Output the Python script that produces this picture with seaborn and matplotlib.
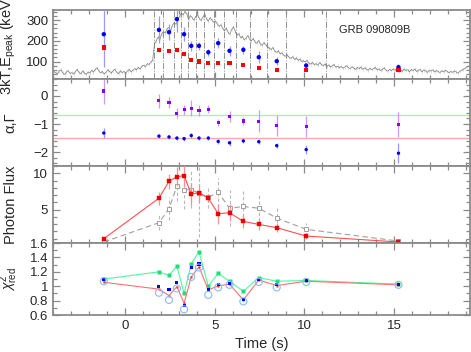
import numpy as np
import pandas as pd
import matplotlib
matplotlib.use("Agg")
import matplotlib.pyplot as plt
from matplotlib.ticker import MultipleLocator, FormatStrFormatter
import seaborn as sns

# ── Spectral time bins (s) ────────────────────────────────────
t_mid = [-1.17, 1.9, 2.46, 2.9, 3.3, 3.7, 4.13, 4.65, 5.2, 5.83,
         6.6, 7.46, 8.46, 10.1, 15.24]
bin_edges = [1.61, 2.13, 2.72, 3.15, 3.52, 3.94, 4.39, 4.94, 5.5,
             6.2, 6.98, 7.9, 9.0, 11.2]

# ── Panel 1: Epeak and 3kT (keV) ─────────────────────────────
epeak = [232, 253, 242, 305, 232, 176, 176, 145, 189, 152, 157, 121, 102, 81, 73]
epeak_err = [160, 65, 40, 60, 35, 25, 20, 18, 25, 25, 20, 30, 20, 10, 15]
kt3 = [168, 157, 152, 157, 136, 108, 100, 92, 95, 92, 83, 68, 58, 58, 58]
kt3_err = [12, 9, 8, 9, 8, 7, 6, 6, 6, 6, 5, 5, 5, 5, 6]

# background light curve (scaled to keV axis), 0.1 s bins from -4 s
lc_rate = [52, 46, 40, 55, 60, 45, 38, 50, 56, 42,
           47, 40, 52, 62, 48, 41, 55, 45, 38, 50,
           44, 58, 49, 62, 70, 55, 46, 52, 40, 48,
           60, 52, 45, 56, 63, 48, 42, 55, 47, 52,
           45, 55, 62, 50, 58, 66, 60, 72, 64, 78,
           82, 75, 90, 86, 98, 105, 185, 200, 218, 210,
           232, 245, 238, 258, 265, 250, 275, 288, 280, 302,
           318, 335, 325, 342, 330, 305, 322, 312, 300, 318,
           325, 308, 298, 315, 328, 306, 295, 312, 300, 290,
           296, 282, 270, 278, 260, 248, 262, 240, 232, 255,
           268, 245, 228, 235, 215, 222, 205, 212, 226, 208,
           200, 212, 195, 188, 202, 185, 178, 192, 180, 170,
           165, 158, 168, 150, 145, 152, 138, 142, 130, 126,
           132, 120, 116, 124, 110, 118, 106, 112, 100, 104,
           98, 106, 92, 88, 96, 85, 90, 82, 95, 86,
           80, 88, 76, 84, 74, 79, 86, 72, 78, 70,
           76, 68, 74, 80, 70, 66, 75, 69, 62, 72,
           66, 74, 62, 70, 64, 58, 68, 61, 66, 72,
           60, 65, 56, 63, 70, 58, 54, 62, 57, 64,
           58, 66, 55, 60, 52, 64, 57, 61, 50, 62,
           56, 64, 52, 58, 62, 50, 60, 55, 48, 58,
           54, 60, 50, 57, 52, 47, 56, 50, 58, 53,
           46, 52, 48, 55, 50, 44, 53, 58, 62, 68,
           74, 78]
lc_t = np.arange(len(lc_rate)) * 0.1 - 4.0 + 0.05
lc_err = 8

# ── Panel 2: alpha, Gamma ────────────────────────────────────
alpha = [0.18, -0.17, -0.24, -0.61, -0.49, -0.44, -0.53, -0.47, -0.94, -0.72,
         -0.89, -0.90, -1.04, -1.08, -1.02]
alpha_err = [0.45, 0.25, 0.2, 0.17, 0.17, 0.28, 0.2, 0.15, 0.13, 0.2,
             0.15, 0.4, 0.38, 0.38, 0.45]
gamma = [-1.32, -1.43, -1.46, -1.50, -1.52, -1.41, -1.50, -1.50, -1.62, -1.67,
         -1.60, -1.63, -1.77, -1.91, -2.04]
gamma_err = [0.18, 0.08, 0.07, 0.07, 0.07, 0.08, 0.08, 0.08, 0.1, 0.1,
             0.08, 0.08, 0.1, 0.15, 0.36]

# ── Panel 3: photon flux ─────────────────────────────────────
flux_red = [1.0, 6.58, 8.9, 9.55, 9.68, 7.18, 7.3, 6.6, 4.44, 4.58,
            3.38, 2.97, 2.52, 1.37, 0.55]
flux_red_err = [0.15, 0.9, 1.0, 1.3, 1.5, 1.5, 1.3, 0.6, 1.4, 1.2,
                0.9, 0.8, 0.6, 0.4, 0.12]
flux_gray = [0.55, 3.2, 5.12, 8.22, 7.73, 7.77, 7.26, 6.7, 7.4, 5.2,
             5.44, 5.2, 3.84, 2.29, 0.68]
flux_gray_err = [0.2, 1.0, 1.6, 2.0, 2.6, 2.6, 6.0, 1.5, 2.0, 2.5,
                 2.2, 1.8, 1.4, 0.9, 0.35]

# ── Panel 4: reduced chi2 ────────────────────────────────────
chi_green = [1.10, 1.20, 1.15, 1.28, 0.90, 1.31, 1.48, 1.00, 1.18, 1.07,
             0.93, 1.12, 1.07, 1.08, 1.03]
chi_red = [1.055, 0.96, 0.87, 0.995, 0.765, 1.13, 1.27, 0.95, 1.005, 1.03,
           0.81, 1.087, 1.01, 1.07, 1.02]
chi_blue = [1.10, 0.995, 0.95, 1.055, 0.73, 1.26, 1.31, 0.955, 1.02, 1.04,
            0.82, 1.10, 1.02, 1.08, 1.03]
chi_circ = [1.07, 0.91, 0.81, 0.97, 0.68, 1.13, 1.26, 0.88, 0.985, 1.02,
            0.79, 1.06, 0.985, 1.06, 1.02]

df = pd.DataFrame({"t": t_mid, "epeak": epeak, "kt3": kt3,
                   "alpha": alpha, "gamma": gamma,
                   "flux_red": flux_red, "flux_gray": flux_gray,
                   "chi_green": chi_green, "chi_red": chi_red,
                   "chi_blue": chi_blue, "chi_circ": chi_circ})
lc = pd.DataFrame({"t": lc_t, "rate": lc_rate})

# ── Style ────────────────────────────────────────────────────
sns.set_style("ticks")
plt.rcParams["font.family"] = ["Liberation Sans", "DejaVu Sans"]
plt.rcParams["mathtext.fontset"] = "custom"
plt.rcParams["mathtext.rm"] = "Liberation Sans"
plt.rcParams["mathtext.it"] = "Liberation Sans:italic"
spine_c = "#8a8a8a"

fig = plt.figure(figsize=(4.71, 3.52), dpi=100)
gs = fig.add_gridspec(4, 1, height_ratios=[69, 87, 77, 72], hspace=0,
                      left=0.1125, right=0.997, top=0.971, bottom=0.105)
axes = [fig.add_subplot(gs[i]) for i in range(4)]
for ax in axes[1:]:
    ax.sharex(axes[0])

# Panel 1
ax = axes[0]
ax.errorbar(lc["t"], lc["rate"], yerr=lc_err, fmt="none",
            ecolor="#d6d6d6", elinewidth=0.5, zorder=1)
sns.lineplot(data=lc, x="t", y="rate", ax=ax, color="#7a7a7a",
             lw=0.5, zorder=2)
for e in bin_edges:
    ax.axvline(e, color="#909090", lw=0.7, ls="-.", zorder=1.5)
ax.errorbar(df["t"], df["epeak"], yerr=epeak_err, fmt="none",
            ecolor="#9999ff", elinewidth=0.9, zorder=3)
ax.errorbar(df["t"], df["kt3"], yerr=kt3_err, fmt="none",
            ecolor="#ff9999", elinewidth=0.9, zorder=3)
sns.scatterplot(data=df, x="t", y="epeak", ax=ax, color="#0000ff",
                marker="o", s=10, edgecolor="none", zorder=4)
sns.scatterplot(data=df, x="t", y="kt3", ax=ax, color="#ff0000",
                marker="s", s=9, edgecolor="none", zorder=4)
ax.text(13.9, 253, "GRB 090809B", fontsize=8, ha="center", va="center")
ax.set_ylim(15, 348)
ax.yaxis.set_major_locator(MultipleLocator(100))
ax.yaxis.set_minor_locator(MultipleLocator(20))
ax.set_ylabel(r"3kT,E$_{\rm peak}$ (keV)")

# Panel 2
ax = axes[1]
ax.axhline(-2 / 3, color="#99ff99", lw=1.0, zorder=1)
ax.axhline(-1.5, color="#ffaaaa", lw=1.0, zorder=1)
ax.errorbar(df["t"], df["alpha"], yerr=alpha_err, fmt="none",
            ecolor="#cc99ff", elinewidth=0.9, zorder=2)
ax.errorbar(df["t"], df["gamma"], yerr=gamma_err, fmt="none",
            ecolor="#9999ff", elinewidth=0.9, zorder=2)
sns.scatterplot(data=df, x="t", y="alpha", ax=ax, color="#8a00f0",
                marker="s", s=5, edgecolor="none", zorder=3)
sns.scatterplot(data=df, x="t", y="gamma", ax=ax, color="#0000ee",
                marker="o", s=6, edgecolor="none", zorder=3)
ax.set_ylim(-2.5, 0.6)
ax.yaxis.set_major_locator(MultipleLocator(1))
ax.yaxis.set_minor_locator(MultipleLocator(0.2))
ax.set_ylabel("α,Γ")

# Panel 3
ax = axes[2]
eb = ax.errorbar(df["t"], df["flux_gray"], yerr=flux_gray_err, fmt="none",
                 ecolor="#b8b8b8", elinewidth=0.8, zorder=1)
eb[2][0].set_linestyle((0, (3, 2)))
sns.lineplot(data=df, x="t", y="flux_gray", ax=ax, color="#a0a0a0",
             lw=0.8, ls=(0, (5, 3)), marker="s", markersize=3.2,
             markerfacecolor="white", markeredgecolor="#909090",
             markeredgewidth=0.6, zorder=2)
ax.errorbar(df["t"], df["flux_red"], yerr=flux_red_err, fmt="none",
            ecolor="#ff9090", elinewidth=0.9, zorder=3)
sns.lineplot(data=df, x="t", y="flux_red", ax=ax, color="#ff5050",
             lw=0.8, marker="s", markersize=2.2, markerfacecolor="#ee0000",
             markeredgecolor="#ee0000", markeredgewidth=0.3, zorder=4)
ax.set_ylim(0.4, 11)
ax.yaxis.set_major_locator(MultipleLocator(5))
ax.yaxis.set_minor_locator(MultipleLocator(1))
ax.set_ylabel("Photon Flux")

# Panel 4
ax = axes[3]
sns.lineplot(data=df, x="t", y="chi_green", ax=ax, color="#55f5a0",
             lw=0.8, marker="s", markersize=2.2, markeredgecolor="none",
             markerfacecolor="#22dd77", zorder=2)
sns.lineplot(data=df, x="t", y="chi_red", ax=ax, color="#ff7070",
             lw=0.8, marker="s", markersize=1.8, markeredgecolor="none",
             markerfacecolor="#ee3333", zorder=2)
sns.scatterplot(data=df, x="t", y="chi_blue", ax=ax, color="#0000ff",
                marker="s", s=5, edgecolor="none", zorder=3)
sns.scatterplot(data=df, x="t", y="chi_circ", ax=ax, facecolor="none",
                edgecolor="#88bbff", marker="o", s=26, linewidth=0.8, zorder=3)
ax.set_ylim(0.6, 1.6)
ax.yaxis.set_major_locator(MultipleLocator(0.2))
ax.yaxis.set_minor_locator(MultipleLocator(0.1))
ax.yaxis.set_major_formatter(FormatStrFormatter("%g"))
ax.set_ylabel(r"$\chi^2_{\rm red}$")
ax.set_xlabel("Time (s)", fontsize=10.5)

for i, ax in enumerate(axes):
    ax.set_xlim(-4, 19.2)
    ax.xaxis.set_major_locator(MultipleLocator(5))
    ax.xaxis.set_minor_locator(MultipleLocator(1))
    ax.tick_params(which="both", direction="in", top=True, right=True,
                   color=spine_c, labelsize=9.5, width=0.9)
    ax.tick_params(which="major", length=5)
    ax.tick_params(which="minor", length=3)
    for s in ax.spines.values():
        s.set_color(spine_c)
        s.set_linewidth(1.3)
    ax.yaxis.label.set_fontsize(10.5)
    ax.yaxis.set_label_coords(-0.085, 0.5)
    if i < 3:
        ax.tick_params(labelbottom=False)
        ax.set_xlabel("")
axes[3].yaxis.label.set_fontsize(10)
axes[3].yaxis.set_label_coords(-0.078, 0.5)

plt.savefig("out.png", dpi=100)
